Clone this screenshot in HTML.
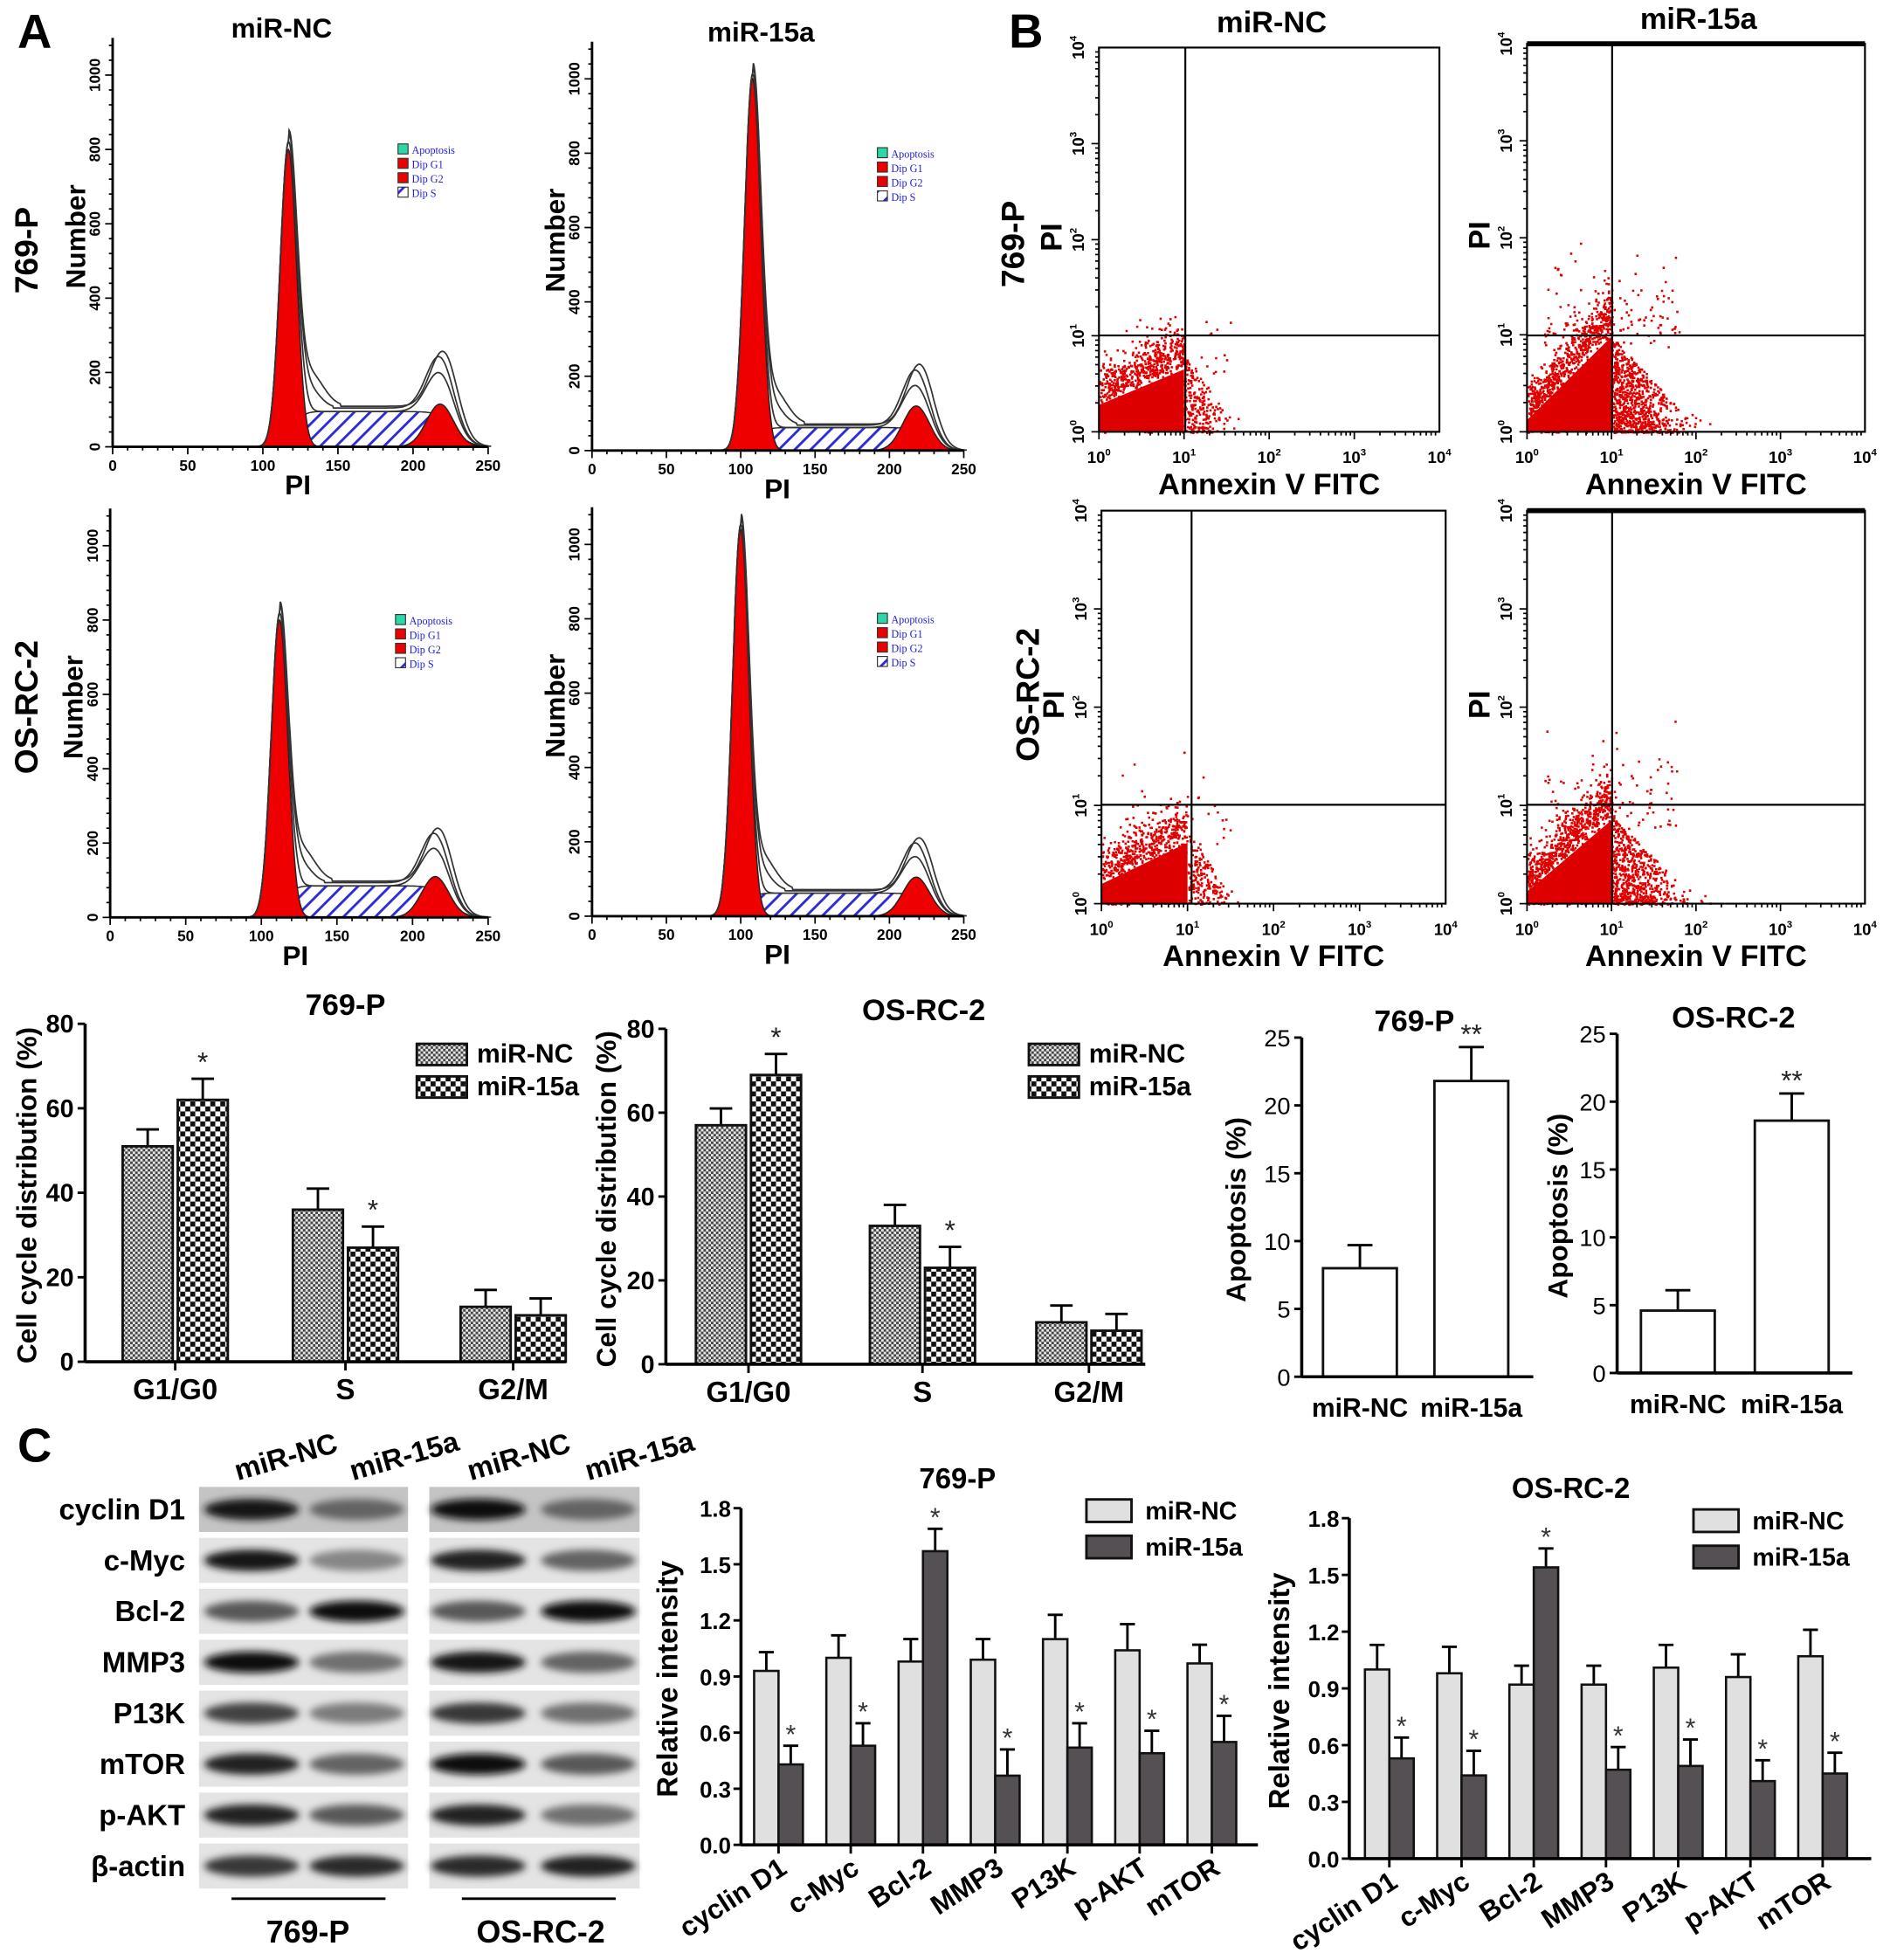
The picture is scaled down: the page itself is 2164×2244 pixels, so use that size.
<!DOCTYPE html>
<html><head><meta charset="utf-8">
<style>
html,body{margin:0;padding:0;background:#fff;}
svg{display:block;font-family:"Liberation Sans",Arial,sans-serif;}
</style></head>
<body>
<svg id="fig" width="2164" height="2244" viewBox="0 0 1510 1566" preserveAspectRatio="none" xmlns="http://www.w3.org/2000/svg">
<defs>
<pattern id="hatchS" width="9" height="9" patternUnits="userSpaceOnUse" patternTransform="rotate(45)">
<rect width="9" height="9" fill="#fff"/><rect x="0" y="0" width="2" height="9" fill="#2b2bd8"/></pattern>
<pattern id="fineChk" width="4" height="4" patternUnits="userSpaceOnUse">
<rect width="4" height="4" fill="#e6e6e6"/><rect width="2" height="2" fill="#444"/><rect x="2" y="2" width="2" height="2" fill="#444"/></pattern>
<pattern id="bigChk" width="8" height="8" patternUnits="userSpaceOnUse">
<rect width="8" height="8" fill="#fff"/><rect width="4" height="4" fill="#111"/><rect x="4" y="4" width="4" height="4" fill="#111"/></pattern>
<filter id="blur" x="-30%" y="-80%" width="160%" height="260%"><feGaussianBlur stdDeviation="3"/></filter>
</defs>
<g id="root"></g>
</svg>
<script>
// ---------- data ----------
const histG1Pos=[117,108,112,100];
const histG1Height=[800,1000,800,1040];
const histG2Pos=[218,218,215,218];
const histG2Height=[115,120,110,105];
const histSHeight=[95,62,85,62];
const histTitles=['miR-NC','miR-15a','',''];

const ccCategories=['G1/G0','S','G2/M'];
const cc769NC=[51,36,13];
const cc769NCErr=[4,5,4];
const cc769Mi=[62,27,11];
const cc769MiErr=[5,5,4];
const ccOSNC=[57,33,10];
const ccOSNCErr=[4,5,4];
const ccOSMi=[69,23,8];
const ccOSMiErr=[5,5,4];
const ccTicks=[0,20,40,60,80];

const apoCategories=['miR-NC','miR-15a'];
const apo769=[8.0,21.8];
const apo769Err=[1.7,2.5];
const apoOS=[4.6,18.6];
const apoOSErr=[1.5,2.0];
const apoTicks=[0,5,10,15,20,25];

const riTicks=[0,0.3,0.6,0.9,1.2,1.5,1.8];
const ri769NC=[0.93,1.00,0.98,0.99,1.10,1.04,0.97];
const ri769NCErr=[0.10,0.12,0.12,0.11,0.13,0.14,0.10];
const ri769Mi=[0.43,0.53,1.57,0.37,0.52,0.49,0.55];
const ri769MiErr=[0.10,0.12,0.12,0.14,0.13,0.12,0.14];
const riOSNC=[1.00,0.98,0.92,0.92,1.01,0.96,1.07];
const riOSNCErr=[0.13,0.14,0.10,0.10,0.12,0.12,0.14];
const riOSMi=[0.53,0.44,1.54,0.47,0.49,0.41,0.45];
const riOSMiErr=[0.11,0.13,0.10,0.12,0.14,0.11,0.11];
const riLabels=['cyclin D1','c-Myc','Bcl-2','MMP3','P13K','p-AKT','mTOR'];

const blotRows=['cyclin D1','c-Myc','Bcl-2','MMP3','P13K','mTOR','p-AKT','β-actin'];
const blotDark769NC=[0.95,0.95,0.65,1.0,0.75,0.9,0.9,0.8];
const blotDark769Mi=[0.6,0.45,1.0,0.55,0.5,0.6,0.65,0.85];
const blotDarkOSNC=[1.0,0.9,0.65,0.95,0.8,1.0,0.9,0.85];
const blotDarkOSMi=[0.6,0.6,1.0,0.6,0.55,0.65,0.55,0.9];

// ---------- helpers ----------
const NS='http://www.w3.org/2000/svg';
const root=document.getElementById('root');
function el(tag,attrs,parent){const e=document.createElementNS(NS,tag);for(const k in attrs)e.setAttribute(k,attrs[k]);(parent||root).appendChild(e);return e;}
function txt(x,y,s,size,attrs,parent){const t=el('text',Object.assign({x:x,y:y,'font-size':size},attrs||{}),parent);t.textContent=s;return t;}

let t;
t=txt(14,38,'A',38,{'font-weight':'bold'});

t=txt(806,38,'B',38,{'font-weight':'bold'});

t=txt(14,1168,'C',38,{'font-weight':'bold'});


// ---------- Histograms ----------
const histBoxes=[{ox:90,oy:357,w:300},{ox:473,oy:360,w:297},{ox:88,oy:733,w:302},{ox:473,oy:732,w:297}];
function gauss(x,m,s){return Math.exp(-0.5*((x-m)/s)**2);}
function drawHist(i){
  const g=el('g',{});
  
  
  const b=histBoxes[i];
  const X=v=>b.ox+v*b.w/250, Y=v=>b.oy-v*0.297;
  const g1=histG1Pos[i],g2=histG2Pos[i];
  const sFull=x=>{const l=1/(1+Math.exp(-(x-(g1+4))/3)),r=1/(1+Math.exp((x-(g2+10))/5));return histSHeight[i]*l*r;};
  const g1f=x=>histG1Height[i]*gauss(x,g1,5.5);
  const g2f=x=>histG2Height[i]*gauss(x,g2,9);
  function path(f,x0,x1,closed){let d='';for(let x=x0;x<=x1;x+=0.5){d+=(d?'L':'M')+X(x).toFixed(1)+','+Y(f(x)).toFixed(1);}if(closed)d+='L'+X(x1)+','+Y(0)+'L'+X(x0)+','+Y(0)+'Z';return d;}
  el('path',{d:path(sFull,g1-15,g2+30,true),fill:'url(#hatchS)',stroke:'#222','stroke-width':1},g);
  el('path',{d:path(g1f,g1-25,g1+25,true),fill:'#ee0000',stroke:'#222','stroke-width':1},g);
  el('path',{d:path(g2f,g2-30,g2+30,true),fill:'#ee0000',stroke:'#222','stroke-width':1},g);
  el('path',{d:path(x=>g1f(x)+g2f(x)+sFull(x),g1-25,250),fill:'none',stroke:'#333','stroke-width':1.2},g);
  el('path',{d:path(x=>g1f(x)+g2f(x)*1.3+sFull(x)*1.1+(x>g1&&x<g1+30?60*gauss(x,g1+12,8):0),g1-25,250),fill:'none',stroke:'#333','stroke-width':1.2},g);
  el('path',{d:path(x=>g1f(x)+1.45*histG2Height[i]*gauss(x,g2+3,9)+sFull(x)*1.15+(x>g1&&x<g1+35?90*gauss(x,g1+14,9):0),g1-25,252),fill:'none',stroke:'#333','stroke-width':1.2},g);
  el('line',{x1:b.ox,y1:b.oy,x2:b.ox+b.w,y2:b.oy,stroke:'#000','stroke-width':2},g);
  el('line',{x1:b.ox,y1:b.oy,x2:b.ox,y2:Y(1100),stroke:'#000','stroke-width':2},g);
  for(let v=0;v<=250;v+=10){el('line',{x1:X(v),y1:b.oy,x2:X(v),y2:b.oy+(v%50?3:6),stroke:'#000','stroke-width':1.2},g);}
  for(let v=0;v<=250;v+=50){txt(X(v),b.oy+19,String(v),12,{'text-anchor':'middle','font-weight':'bold'},g);}
  for(let v=0;v<=1100;v+=40){el('line',{x1:b.ox-(v%200?3:6),y1:Y(v),x2:b.ox,y2:Y(v),stroke:'#000','stroke-width':1.2},g);}
  for(let v=0;v<=1000;v+=200){txt(0,0,String(v),12,{'text-anchor':'middle','font-weight':'bold',transform:`translate(${b.ox-10},${Y(v)}) rotate(-90)`},g);}
  txt(b.ox+148,b.oy+38,'PI',22,{'text-anchor':'middle','font-weight':'bold'},g);
  txt(0,0,'Number',22,{'text-anchor':'middle','font-weight':'bold',transform:`translate(${b.ox-22},${b.oy-168}) rotate(-90)`},g);
  if(histTitles[i])txt(b.ox+135,b.oy-327,histTitles[i],22,{'text-anchor':'middle','font-weight':'bold'},g);
  const lx=b.ox+228,ly=b.oy-242;
  const leg=[['#2bd8a8','Apoptosis'],['#ee0000','Dip  G1'],['#ee0000','Dip  G2'],['url(#hatchS)','Dip  S']];
  leg.forEach((l,k)=>{el('rect',{x:lx,y:ly+k*11.5,width:8,height:8,fill:l[0],stroke:'#333','stroke-width':0.8},g);
    txt(lx+11,ly+k*11.5+8,l[1],8.5,{fill:'#2222dd','font-family':'Liberation Serif, serif'},g);});
}
for(let i=0;i<4;i++)drawHist(i);
t=txt(0,0,'769-P',26,{'text-anchor':'middle','font-weight':'bold',transform:'translate(30,200) rotate(-90)'});

t=txt(0,0,'OS-RC-2',26,{'text-anchor':'middle','font-weight':'bold',transform:'translate(30,565) rotate(-90)'});


// ---------- Dot plots ----------
let seed=12345;function rnd(){seed=(seed*1103515245+12345)%2147483648;return seed/2147483648;}
function nrm(){let u=rnd()||1e-6,v=rnd();return Math.sqrt(-2*Math.log(u))*Math.cos(2*Math.PI*v);}
const dotBoxes=[
 {x0:878,x1:1150,y0:38,y1:345,vx:947,hy:268,title:'miR-NC',c0:0.28,c1:0.65,cx:1.0,nL:500,nR:220,rs:0.22,ry:0.45,nO:45,top:false},
 {x0:1220,x1:1490,y0:35,y1:345,vx:1288,hy:268,title:'miR-15a',c0:0.12,c1:0.98,cx:1.0,nL:650,nR:800,rs:0.35,ry:0.55,nO:110,top:true},
 {x0:880,x1:1155,y0:408,y1:722,vx:952,hy:643,title:'',c0:0.2,c1:0.62,cx:1.0,nL:450,nR:180,rs:0.2,ry:0.4,nO:40,top:false},
 {x0:1220,x1:1490,y0:408,y1:722,vx:1288,hy:643,title:'',c0:0.12,c1:0.85,cx:1.0,nL:650,nR:650,rs:0.35,ry:0.5,nO:100,top:true}];
dotBoxes.forEach((b,i)=>{
  const g=el('g',{});
  
  
  const dx=(b.x1-b.x0)/4,dy=(b.y1-b.y0)/4;
  const X=l=>b.x0+l*dx,Y=l=>b.y1-l*dy;
  el('path',{d:`M${X(0)},${Y(0)} L${X(0)},${Y(b.c0)} L${X(b.cx*0.5)},${Y((b.c0+b.c1)/2)} L${X(b.cx)},${Y(b.c1)} L${X(b.cx)},${Y(0)} Z`,fill:'#dd0000'},g);
  let d='';
  function pt(lx,ly){ if(lx<0||ly<0||lx>3.95||ly>3.95)return; d+=`M${X(lx).toFixed(1)},${Y(ly).toFixed(1)}h1.8v1.8h-1.8z`; }
  for(let k=0;k<b.nL;k++){const lx=rnd()*b.cx; const base=b.c0+(b.c1-b.c0)*lx/b.cx; pt(lx, base*rnd()*0.3+base+Math.abs(nrm())*0.18);}
  for(let k=0;k<b.nL/2;k++){const lx=rnd()*b.cx; const base=b.c0+(b.c1-b.c0)*lx/b.cx; pt(lx, rnd()*base);}
  for(let k=0;k<b.nR;k++){const lx=b.cx+Math.abs(nrm())*b.rs; pt(lx, Math.pow(rnd(),1.3)*b.ry*1.8*Math.max(0.2,1-(lx-b.cx)/(b.rs*3)));}
  for(let k=0;k<b.nO;k++){const lx=b.cx*0.2+rnd()*(b.cx*0.9+b.rs*2); pt(lx, b.c1*0.9+Math.abs(nrm())*0.4*(b.c1+0.2));}
  el('path',{d:d,fill:'#e00000'},g);
  el('rect',{x:b.x0,y:b.y0,width:b.x1-b.x0,height:b.y1-b.y0,fill:'none',stroke:'#000','stroke-width':1.5},g);
  if(b.top)el('line',{x1:b.x0,y1:b.y0,x2:b.x1,y2:b.y0,stroke:'#000','stroke-width':4},g);
  el('line',{x1:b.vx,y1:b.y0,x2:b.vx,y2:b.y1,stroke:'#000','stroke-width':1.5},g);
  el('line',{x1:b.x0,y1:b.hy,x2:b.x1,y2:b.hy,stroke:'#000','stroke-width':1.5},g);
  for(let dec=0;dec<4;dec++)for(let m=1;m<10;m++){const o=Math.log10(m);
    el('line',{x1:X(dec+o),y1:b.y1,x2:X(dec+o),y2:b.y1+(m==1?6:3),stroke:'#000','stroke-width':1.2},g);
    el('line',{x1:b.x0-(m==1?6:3),y1:Y(dec+o),x2:b.x0,y2:Y(dec+o),stroke:'#000','stroke-width':1.2},g);}
  for(let dec=0;dec<=4;dec++){
    const tt=txt(X(dec),b.y1+25,'10',13,{'text-anchor':'middle','font-weight':'bold'},g);
    const s=el('tspan',{dy:-6,'font-size':8},tt);s.textContent=String(dec);
    const ty=txt(0,0,'10',13,{'text-anchor':'middle','font-weight':'bold',transform:`translate(${b.x0-12},${Y(dec)}) rotate(-90)`},g);
    const s2=el('tspan',{dy:-6,'font-size':8},ty);s2.textContent=String(dec);
  }
  txt((b.x0+b.x1)/2,b.y1+50,'Annexin V FITC',24,{'text-anchor':'middle','font-weight':'bold'},g);
  txt(0,0,'PI',24,{'text-anchor':'middle','font-weight':'bold',transform:`translate(${b.x0-30},${(b.y0+b.y1)/2-2}) rotate(-90)`},g);
  if(b.title)txt((b.x0+b.x1)/2+2,b.y0-12,b.title,24,{'text-anchor':'middle','font-weight':'bold'},g);
});
t=txt(0,0,'769-P',26,{'text-anchor':'middle','font-weight':'bold',transform:'translate(818,195) rotate(-90)'});

t=txt(0,0,'OS-RC-2',26,{'text-anchor':'middle','font-weight':'bold',transform:'translate(830,555) rotate(-90)'});


// ---------- Cell cycle bar charts ----------
function ccChart(name,ax,y0,y80,xEnd,centers,nc,ncE,mi,miE,stars,title,titleX,legX,legY,ylx){
  const g=el('g',{});
  
  
  const Y=v=>y0-(y0-y80)*v/80, bw=40;
  ccCategories.forEach((c,k)=>{
    const cx=centers[k];
    [[nc,ncE,'url(#fineChk)',cx-bw-2],[mi,miE,'url(#bigChk)',cx+2]].forEach((s,j)=>{
      const v=s[0][k],e=s[1][k],x=s[3];
      el('line',{x1:x+bw/2,y1:Y(v),x2:x+bw/2,y2:Y(v+e),stroke:'#000','stroke-width':2},g);
      el('line',{x1:x+bw/2-9,y1:Y(v+e),x2:x+bw/2+9,y2:Y(v+e),stroke:'#000','stroke-width':2},g);
      const r=el('rect',{x:x,y:Y(v),width:bw,height:Y(0)-Y(v),fill:s[2],stroke:'#111','stroke-width':2},g);
      
      
      if(j==1&&stars[k])txt(x+bw/2,Y(v+e)-6,'*',22,{'text-anchor':'middle',fill:'#222'},g);
    });
    el('line',{x1:cx,y1:y0,x2:cx,y2:y0+7,stroke:'#000','stroke-width':2},g);
    txt(cx,y0+30,c,23,{'text-anchor':'middle','font-weight':'bold'},g);
  });
  el('line',{x1:ax,y1:y0,x2:xEnd,y2:y0,stroke:'#000','stroke-width':2.5},g);
  el('line',{x1:ax,y1:y0,x2:ax,y2:y80,stroke:'#000','stroke-width':2.5},g);
  ccTicks.forEach(v=>{el('line',{x1:ax-6,y1:Y(v),x2:ax,y2:Y(v),stroke:'#000','stroke-width':2},g);
    txt(ax-9,Y(v)+7,String(v),20,{'text-anchor':'end','font-weight':'bold'},g);});
  txt(titleX,Y(80)-7,title,24,{'text-anchor':'middle','font-weight':'bold'},g);
  txt(0,0,'Cell cycle distribution (%)',22,{'text-anchor':'middle','font-weight':'bold',transform:`translate(${ylx},${(y0+y80)/2+2}) rotate(-90)`},g);
  el('rect',{x:legX,y:legY-9,width:40,height:17,fill:'url(#fineChk)',stroke:'#111','stroke-width':2},g);
  el('rect',{x:legX,y:legY+17,width:40,height:17,fill:'url(#bigChk)',stroke:'#111','stroke-width':2},g);
  txt(legX+48,legY+6,'miR-NC',21,{'font-weight':'bold'},g);
  txt(legX+48,legY+32,'miR-15a',21,{'font-weight':'bold'},g);
}
ccChart('cell-cycle-chart-769p',68,1088,818,452,[140,276,410],cc769NC,cc769NCErr,cc769Mi,cc769MiErr,[1,1,0],'769-P',276,333,843,29);
ccChart('cell-cycle-chart-osrc2',532,1090,822,915,[598,737,870],ccOSNC,ccOSNCErr,ccOSMi,ccOSMiErr,[1,1,0],'OS-RC-2',738,822,843,492);

// ---------- Apoptosis charts ----------
function apoChart(name,ax,y0,y25,xEnd,lefts,vals,errs,title,titleX,ylx){
  const g=el('g',{});
  
  
  const Y=v=>y0-(y0-y25)*v/25,bw=59;
  apoCategories.forEach((c,k)=>{
    const x=lefts[k],v=vals[k],e=errs[k];
    el('line',{x1:x+bw/2,y1:Y(v),x2:x+bw/2,y2:Y(v+e),stroke:'#000','stroke-width':2},g);
    el('line',{x1:x+bw/2-10,y1:Y(v+e),x2:x+bw/2+10,y2:Y(v+e),stroke:'#000','stroke-width':2},g);
    const r=el('rect',{x:x,y:Y(v),width:bw,height:Y(0)-Y(v),fill:'#fff',stroke:'#111','stroke-width':2},g);
    
    
    if(k==1)txt(x+bw/2,Y(v+e)-3,'**',22,{'text-anchor':'middle',fill:'#222'},g);
    txt(x+bw/2,y0+32,c,21,{'text-anchor':'middle','font-weight':'bold'},g);
  });
  el('line',{x1:ax,y1:y0,x2:xEnd,y2:y0,stroke:'#000','stroke-width':2.5},g);
  el('line',{x1:ax,y1:y0,x2:ax,y2:y25,stroke:'#000','stroke-width':2.5},g);
  apoTicks.forEach(v=>{el('line',{x1:ax-6,y1:Y(v),x2:ax,y2:Y(v),stroke:'#000','stroke-width':2},g);
    txt(ax-9,Y(v)+7,String(v),19,{'text-anchor':'end'},g);});
  txt(titleX,Y(25)-5,title,24,{'text-anchor':'middle','font-weight':'bold'},g);
  txt(0,0,'Apoptosis (%)',22,{'text-anchor':'middle','font-weight':'bold',transform:`translate(${ylx},${(y0+y25)/2+2}) rotate(-90)`},g);
}
apoChart('apoptosis-chart-769p',1040,1100,829,1225,[1057,1146],apo769,apo769Err,'769-P',1130,995);
apoChart('apoptosis-chart-osrc2',1292,1097,826,1480,[1311,1402],apoOS,apoOSErr,'OS-RC-2',1385,1252);

// ---------- Western blot ----------
(function(){
  const g=el('g',{});
  
  
  const strips=[[159,326],[343,511]];
  const lanes=[201,285,382,470];
  const darks=[blotDark769NC,blotDark769Mi,blotDarkOSNC,blotDarkOSMi];
  blotRows.forEach((r,i)=>{
    const top=1188+i*40.7,cy=top+18;
    strips.forEach(s=>el('rect',{x:s[0],y:top,width:s[1]-s[0],height:36,fill:i==0?'#c4c4c4':'#e4e4e4'},g));
    lanes.forEach((lx,j)=>{
      const dk=darks[j][i];const c=Math.round(235-225*dk);
      const e=el('ellipse',{cx:lx,cy:cy,rx:38,ry:8.5,fill:`rgb(${c},${c},${c})`,filter:'url(#blur)'},g);
      
      
    });
    txt(148,cy+8,r,23,{'text-anchor':'end','font-weight':'bold'},g);
  });
  const hdr=[['miR-NC',190],['miR-15a',282],['miR-NC',376],['miR-15a',470]];
  hdr.forEach(h=>txt(0,0,h[0],23,{'font-weight':'bold',transform:`translate(${h[1]},${1183}) rotate(-16)`},g));
  el('line',{x1:185,y1:1517,x2:308,y2:1517,stroke:'#000','stroke-width':2},g);
  el('line',{x1:369,y1:1517,x2:492,y2:1517,stroke:'#000','stroke-width':2},g);
  txt(246,1552,'769-P',25,{'text-anchor':'middle','font-weight':'bold'},g);
  txt(432,1552,'OS-RC-2',25,{'text-anchor':'middle','font-weight':'bold'},g);
})();

// ---------- Relative intensity charts ----------
function riChart(name,ax,y0,ytop,xEnd,firstC,pitch,nc,ncE,mi,miE,title,titleX,legX,legY,ylx){
  const g=el('g',{});
  
  
  const Y=v=>y0-(y0-ytop)*v/1.8,bw=19.5;
  riLabels.forEach((c,k)=>{
    const cx=firstC+k*pitch;
    [[nc,ncE,'#e0e0e0',cx-bw],[mi,miE,'#545054',cx]].forEach((s,j)=>{
      const v=s[0][k],e=s[1][k],x=s[3];
      el('line',{x1:x+bw/2,y1:Y(v),x2:x+bw/2,y2:Y(v+e),stroke:'#000','stroke-width':2},g);
      el('line',{x1:x+bw/2-6,y1:Y(v+e),x2:x+bw/2+6,y2:Y(v+e),stroke:'#000','stroke-width':2},g);
      const r=el('rect',{x:x,y:Y(v),width:bw,height:Y(0)-Y(v),fill:s[2],stroke:'#111','stroke-width':1.8},g);
      
      
      if(j==1)txt(x+bw/2,Y(v+e)-2,'*',21,{'text-anchor':'middle',fill:'#333'},g);
    });
    el('line',{x1:cx,y1:y0,x2:cx,y2:y0+7,stroke:'#000','stroke-width':2},g);
    txt(0,0,c,22,{'text-anchor':'end','font-weight':'bold',transform:`translate(${cx+8},${y0+22}) rotate(-33)`},g);
  });
  el('line',{x1:ax,y1:y0,x2:xEnd,y2:y0,stroke:'#000','stroke-width':2.5},g);
  el('line',{x1:ax,y1:y0,x2:ax,y2:ytop,stroke:'#000','stroke-width':2.5},g);
  riTicks.forEach(v=>{el('line',{x1:ax-6,y1:Y(v),x2:ax,y2:Y(v),stroke:'#000','stroke-width':2},g);
    txt(ax-8,Y(v)+7,v.toFixed(1),18,{'text-anchor':'end','font-weight':'bold'},g);});
  txt(titleX,ytop-16,title,23,{'text-anchor':'middle','font-weight':'bold'},g);
  txt(0,0,'Relative intensity',23,{'text-anchor':'middle','font-weight':'bold',transform:`translate(${ylx},${(y0+ytop)/2+2}) rotate(-90)`},g);
  el('rect',{x:legX,y:legY-9,width:36,height:18,fill:'#e0e0e0',stroke:'#111','stroke-width':2},g);
  el('rect',{x:legX,y:legY+20,width:36,height:18,fill:'#545054',stroke:'#111','stroke-width':2},g);
  txt(legX+47,legY+7,'miR-NC',20,{'font-weight':'bold'},g);
  txt(legX+47,legY+36,'miR-15a',20,{'font-weight':'bold'},g);
}
riChart('relative-intensity-chart-769p',592,1474,1205,1005,622,57.7,ri769NC,ri769NCErr,ri769Mi,ri769MiErr,'769-P',765,868,1207,541);
riChart('relative-intensity-chart-osrc2',1078,1485,1213,1495,1110,57.7,riOSNC,riOSNCErr,riOSMi,riOSMiErr,'OS-RC-2',1255,1353,1215,1030);
</script>
</body></html>
